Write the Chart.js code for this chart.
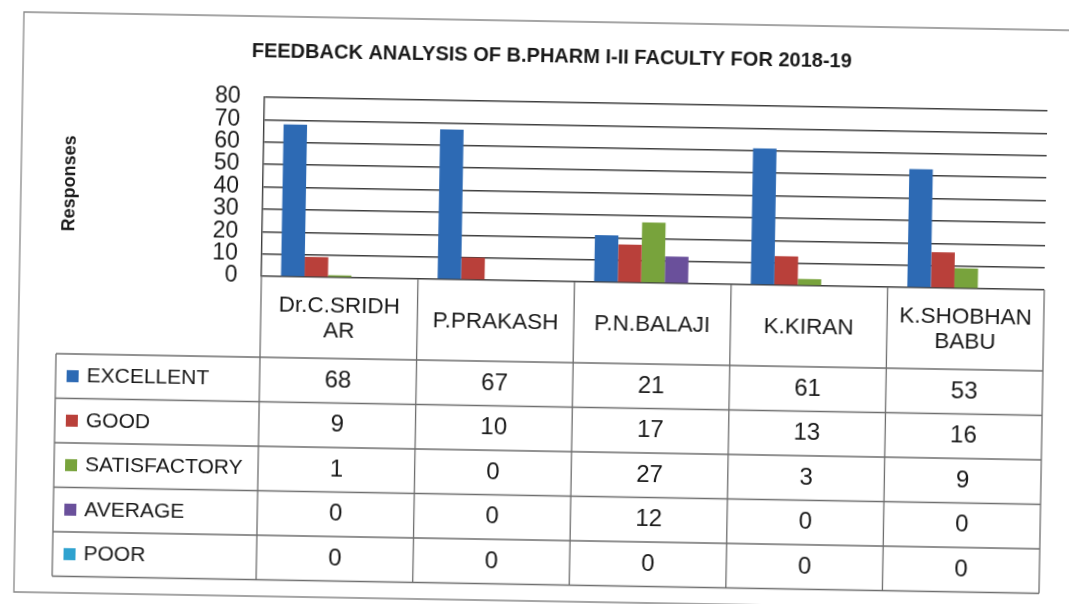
<!DOCTYPE html>
<html><head><meta charset="utf-8">
<script src="https://cdn.jsdelivr.net/npm/chart.js@4.4.1/dist/chart.umd.min.js"></script>
<style>
html,body{margin:0;padding:0;background:#fff;overflow:hidden;width:1069px;height:604px;}
#wrap{position:absolute;left:0;top:0;width:1069px;height:604px;transform:rotate(1deg);transform-origin:534.5px 302px;}
canvas{display:block;}
</style></head><body>
<div id="wrap"><canvas id="c" width="1069" height="604"></canvas></div>
<script>
const chartTitle = "FEEDBACK ANALYSIS OF B.PHARM I-II FACULTY FOR 2018-19";
const axisTitle = "Responses";
const faculty = [["Dr.C.SRIDH", "AR"], "P.PRAKASH", "P.N.BALAJI", "K.KIRAN", ["K.SHOBHAN", "BABU"]];
const seriesNames = ["EXCELLENT", "GOOD", "SATISFACTORY", "AVERAGE", "POOR"];
const excellent = [68, 67, 21, 61, 53];
const good = [9, 10, 17, 13, 16];
const satisfactory = [1, 0, 27, 3, 9];
const average = [0, 0, 12, 0, 0];
const poor = [0, 0, 0, 0, 0];
const yTicks = [0, 10, 20, 30, 40, 50, 60, 70, 80];

const seriesValues = [excellent, good, satisfactory, average, poor];
const seriesColors = ["#2d6ab4", "#b9403a", "#78a33c", "#6a509b", "#2fa2cf"];
const FONT = "'Liberation Sans', Arial, sans-serif";

const frame = {
  id: 'frame',
  beforeDraw(chart) {
    const ctx = chart.ctx;
    ctx.save();
    ctx.fillStyle = '#fff';
    ctx.fillRect(0, 0, chart.width, chart.height);
    ctx.strokeStyle = '#888';
    ctx.lineWidth = 1.3;
    ctx.beginPath();
    ctx.moveTo(chart.width + 20, 21);
    ctx.lineTo(19, 21);
    ctx.lineTo(19, 601);
    ctx.lineTo(chart.width + 20, 601);
    ctx.stroke();
    ctx.restore();
  }
};

const dataTable = {
  id: 'dataTable',
  afterDraw(chart) {
    const ctx = chart.ctx;
    const ca = chart.chartArea;
    const x = chart.scales.x;
    const labels = chart.data.labels;
    const n = labels.length;
    const colW = (x.right - x.left) / n;
    const headTop = ca.bottom;
    const headBot = ca.bottom + 81;
    const rowH = 44.5;
    const legLeft = 57;
    const sets = chart.data.datasets;
    const bottom = headBot + sets.length * rowH;
    ctx.save();
    ctx.strokeStyle = '#6e6e6e';
    ctx.lineWidth = 1.3;
    ctx.beginPath();
    for (let i = 0; i <= n; i++) {
      const xx = x.left + i * colW;
      ctx.moveTo(xx, headTop);
      ctx.lineTo(xx, bottom);
    }
    ctx.moveTo(legLeft, headBot);
    ctx.lineTo(legLeft, bottom);
    for (let r = 0; r <= sets.length; r++) {
      const yy = headBot + r * rowH;
      ctx.moveTo(legLeft, yy);
      ctx.lineTo(x.right, yy);
    }
    ctx.stroke();

    ctx.fillStyle = '#1a1a1a';
    ctx.textAlign = 'center';
    ctx.textBaseline = 'middle';
    ctx.font = '22.5px ' + FONT;
    const lineH = 25;
    labels.forEach((lab, i) => {
      const cx = x.getPixelForValue(i);
      const lines = Array.isArray(lab) ? lab : [lab];
      const y0 = (headTop + headBot) / 2 + 1 - (lines.length - 1) * lineH / 2;
      lines.forEach((t, k) => ctx.fillText(t, cx, y0 + k * lineH));
    });

    sets.forEach((ds, r) => {
      const cy = headBot + rowH * (r + 0.5);
      ctx.fillStyle = ds.backgroundColor;
      ctx.fillRect(68, cy - 6, 12, 12);
      ctx.fillStyle = '#1a1a1a';
      ctx.textAlign = 'left';
      ctx.font = '21px ' + FONT;
      ctx.fillText(ds.label, 88, cy);
      ctx.textAlign = 'center';
      ctx.font = '24px ' + FONT;
      ds.data.forEach((v, i) => ctx.fillText(String(v), x.getPixelForValue(i), cy));
    });
    ctx.restore();
  }
};

new Chart(document.getElementById('c'), {
  type: 'bar',
  data: {
    labels: faculty,
    datasets: seriesNames.map((name, i) => ({
      label: name,
      data: seriesValues[i],
      backgroundColor: seriesColors[i],
      borderWidth: 0,
      categoryPercentage: 0.75,
      barPercentage: 1
    }))
  },
  options: {
    responsive: false,
    animation: false,
    devicePixelRatio: 1,
    layout: { padding: { left: 51, right: 25, top: 10, bottom: 0 } },
    plugins: {
      legend: { display: false },
      tooltip: { enabled: false },
      title: {
        display: true,
        text: chartTitle,
        color: '#1a1a1a',
        font: { family: FONT, size: 20, weight: 'bold', lineHeight: 1.2 },
        padding: { top: 34, bottom: 34 }
      }
    },
    scales: {
      x: {
        grid: { display: false },
        border: { display: false },
        ticks: { display: false },
        afterFit(s) { s.height = 323; }
      },
      y: {
        min: yTicks[0],
        max: yTicks[yTicks.length - 1],
        afterFit(s) { s.width = 210; },
        ticks: {
          stepSize: yTicks[1] - yTicks[0],
          autoSkip: false,
          padding: 24,
          color: '#1a1a1a',
          font: { family: FONT, size: 23, lineHeight: 1 }
        },
        grid: { color: '#3e3e3e', lineWidth: 1.4, drawTicks: false },
        border: { color: '#3e3e3e', width: 1.4 },
        title: {
          display: true,
          text: axisTitle,
          color: '#1a1a1a',
          font: { family: FONT, size: 18, weight: 'bold', lineHeight: 1.2 },
          padding: { top: 6, bottom: 0 }
        }
      }
    }
  },
  plugins: [frame, dataTable]
});
</script>
</body></html>
